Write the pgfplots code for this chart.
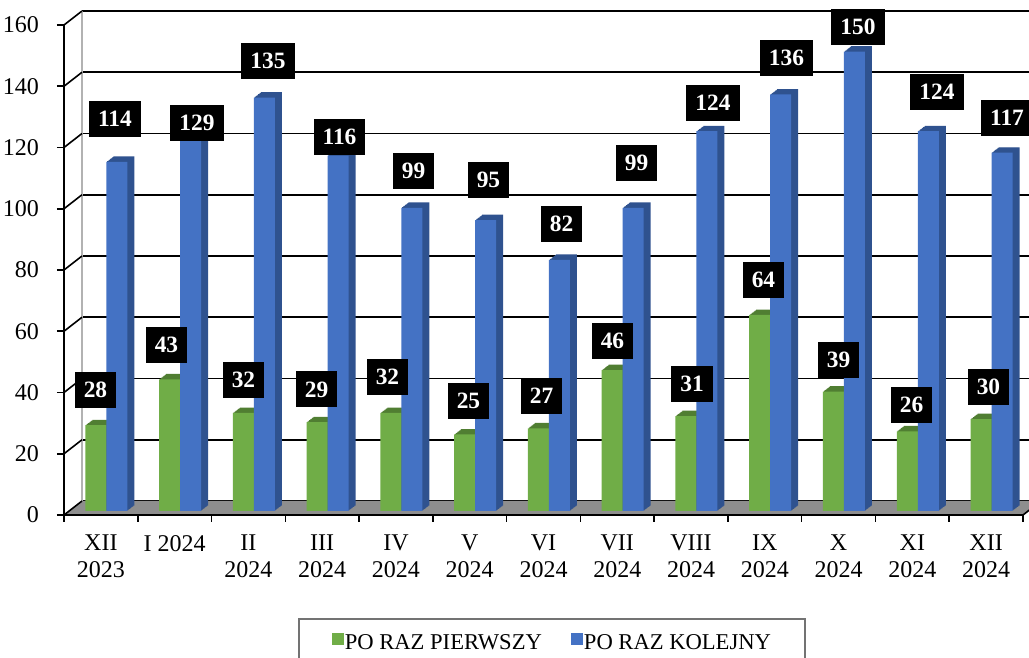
\documentclass[border=0pt]{standalone}
\usepackage{fontspec}
\setmainfont{Liberation Serif}
\usepackage{pgfplots}
\pgfplotsset{compat=1.18}
\usepackage{pgfplotstable}
\pgfplotsset{/pgf/number format/assume math mode=true}
\definecolor{gr}{HTML}{70AD47}
\definecolor{bl}{HTML}{4472C4}
\definecolor{grd}{HTML}{507E32}
\definecolor{bld}{HTML}{2F528F}
\definecolor{floorc}{HTML}{8E8E8E}

\pgfplotstableread{
x g b
0 28 114
1 43 129
2 32 135
3 29 116
4 32 99
5 25 95
6 27 82
7 46 99
8 31 124
9 64 136
10 39 150
11 26 124
12 30 117
}\data

\pgfplotstableread{
lx ly v
-0.073 40.8 28
0.889 55.5 43
1.933 44.1 32
2.923 41.0 29
3.885 45.1 32
4.983 37.2 25
5.973 38.9 27
6.935 56.8 46
8.013 42.8 31
8.982 76.7 64
9.999 50.6 39
10.989 35.9 26
12.032 41.8 30
}\glab

\pgfplotstableread{
lx ly v
0.191 129.3 114
1.303 128.0 129
2.265 148.2 135
3.235 123.4 116
4.238 112.3 99
5.254 109.4 95
6.244 95.0 82
7.261 114.9 99
8.298 134.5 124
9.294 149.2 136
10.263 159.3 150
11.334 138.1 124
12.283 129.6 117
}\blab

\begin{document}
\begin{tikzpicture}[font=\fontsize{12}{13.3}\selectfont]
% back wall
\begin{axis}[at={(41pt,78.5pt)}, anchor=south west,
  width=479.5pt, height=245pt, scale only axis,
  xmin=-0.5, xmax=12.5, ymin=0, ymax=160,
  axis x line=none, axis y line*=left,
  y axis line style={-, draw=black!30, line width=0.9pt},
  ytick={0,20,...,160}, yticklabels={}, major tick length=0pt,
  ymajorgrids, grid style={black, line width=0.9pt}]
\addplot[draw=none] coordinates {(0,0)};
\end{axis}
% front
\begin{axis}[at={(32pt,71.5pt)}, anchor=south west,
  width=479.5pt, height=245pt, scale only axis,
  xmin=-0.5, xmax=12.5, ymin=0, ymax=160, clip=false,
  axis lines*=left, axis line style={-, black, line width=0.9pt},
  axis on top,
  ytick={0,20,...,160}, tick align=outside, major tick length=3.5pt,
  ytick style={black, line width=0.8pt},
  xtick={0,...,12}, xtick style={draw=none},
  xticklabels={{XII\\2023},{I 2024},{II\\2024},{III\\2024},{IV\\2024},{V\\2024},{VI\\2024},{VII\\2024},{VIII\\2024},{IX\\2024},{X\\2024},{XI\\2024},{XII\\2024}},
  tick label style={font=\fontsize{12}{13.3}\selectfont},
  xticklabel style={align=center, yshift=-3pt},
  yticklabel style={xshift=-5.5pt},
  legend style={at={(0.244,-0.210)}, anchor=north west, draw=black!55, line width=0.8pt,
    legend columns=2, inner xsep=16.5pt, inner ysep=4pt,
    nodes={inner xsep=0.5pt, inner ysep=3.8pt},
    /tikz/every even column/.append style={column sep=14pt},
    font=\fontsize{11.3}{13.3}\selectfont},
  legend cell align=left]
\fill[floorc] (axis cs:-0.5,0) -- (axis cs:12.5,0) -- ([shift={(9pt,7pt)}]axis cs:12.5,0) -- ([shift={(9pt,7pt)}]axis cs:-0.5,0) -- cycle;
\draw[black, line width=0.8pt] (axis cs:12.5,0) -- ([shift={(9pt,7pt)}]axis cs:12.5,0);
\pgfplotsinvokeforeach{0,20,...,160}{\draw[black, line width=0.8pt] (axis cs:-0.5,#1) -- ([shift={(9pt,7pt)}]axis cs:-0.5,#1);}
\pgfplotsinvokeforeach{-0.5,0.5,...,12.5}{\draw[black, line width=0.8pt] (axis cs:#1,0) -- ([yshift=-3.5pt]axis cs:#1,0);}
\pgfplotsinvokeforeach{1,...,8}{
\addplot[ybar, bar width=10.5pt, bar shift=-5.25pt, fill=grd, draw=none, forget plot,
  xshift={2.7pt+#1*0.4375pt}, yshift={2pt+#1*0.3375pt}] table[x=x,y=g]{\data};
\addplot[ybar, bar width=10.5pt, bar shift=5.25pt, fill=bld, draw=none, forget plot,
  xshift={2.7pt+#1*0.4375pt}, yshift={2pt+#1*0.3375pt}] table[x=x,y=b]{\data};
}
\addplot[ybar, bar width=10.5pt, bar shift=-5.25pt, fill=gr, draw=none,
  xshift=2.7pt, yshift=2pt,
  legend image code/.code={\fill[gr] (0pt,-3pt) rectangle (6pt,3pt);}] table[x=x,y=g]{\data};
\addlegendentry{PO RAZ PIERWSZY}
\addplot[ybar, bar width=10.5pt, bar shift=5.25pt, fill=bl, draw=none,
  xshift=2.7pt, yshift=2pt,
  legend image code/.code={\fill[bl] (0pt,-3pt) rectangle (6pt,3pt);}] table[x=x,y=b]{\data};
\addlegendentry{PO RAZ KOLEJNY}
\addplot[draw=none, forget plot, nodes near coords, point meta=explicit,
  every node near coord/.append style={anchor=center, fill=black, text=white,
    font=\fontsize{11.7}{13.3}\selectfont\bfseries, inner xsep=4.5pt, inner ysep=0pt, minimum height=18pt}]
  table[x=lx,y=ly,meta=v]{\glab};
\addplot[draw=none, forget plot, nodes near coords, point meta=explicit,
  every node near coord/.append style={anchor=center, fill=black, text=white,
    font=\fontsize{11.7}{13.3}\selectfont\bfseries, inner xsep=4.5pt, inner ysep=0pt, minimum height=18pt}]
  table[x=lx,y=ly,meta=v]{\blab};
\end{axis}
\pgfresetboundingbox
\useasboundingbox (0,0) rectangle (514.5pt,329pt);
\end{tikzpicture}
\end{document}
